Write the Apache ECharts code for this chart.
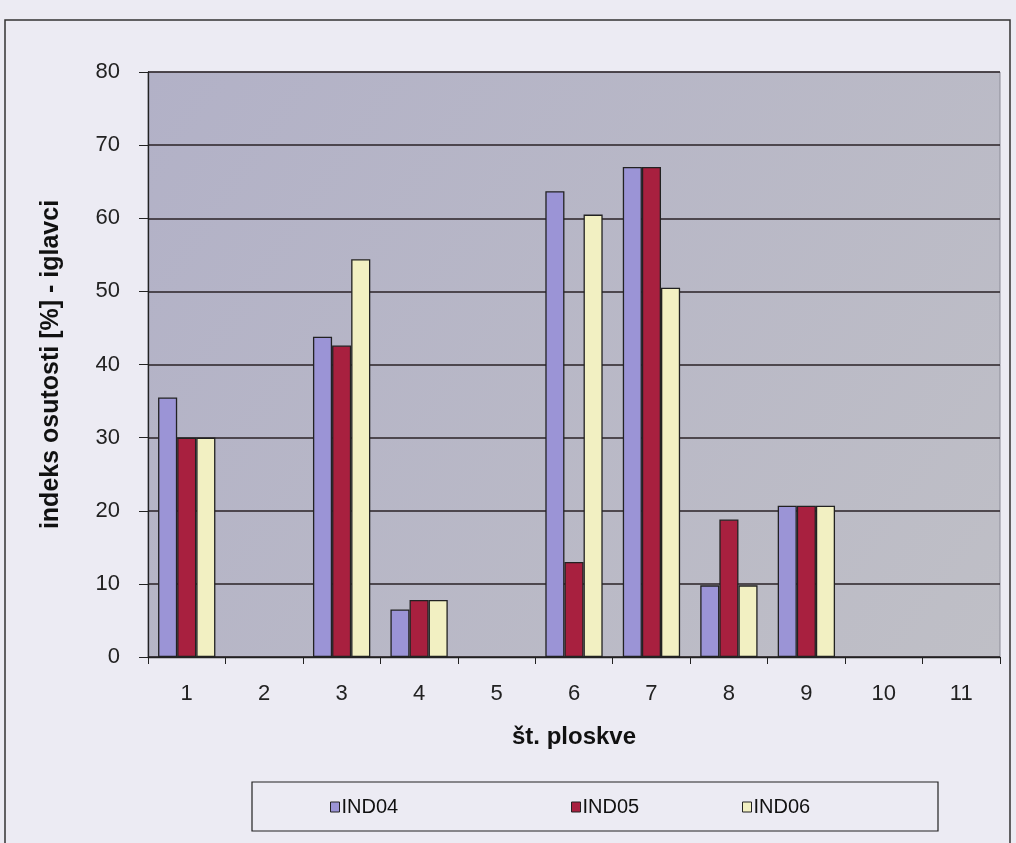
<!DOCTYPE html>
<html><head><meta charset="utf-8">
<script src="https://cdn.jsdelivr.net/npm/echarts@6/dist/echarts.min.js"></script>
<style>html,body{margin:0;padding:0;background:#ecebf3;}#c{width:1016px;height:843px;}</style>
</head><body><div id="c"></div>
<script>
const categories = ['1','2','3','4','5','6','7','8','9','10','11'];
const ind04 = [35.5, null, 43.8, 6.5, null, 63.7, 67, 9.8, 20.7, null, null];
const ind05 = [30, null, 42.6, 7.8, null, 13, 67, 18.8, 20.7, null, null];
const ind06 = [30, null, 54.4, 7.8, null, 60.5, 50.5, 9.8, 20.7, null, null];
const seriesNames = ['IND04', 'IND05', 'IND06'];
const colors = ['#9b94d6', '#a8203f', '#f2f0c2'];
const font = "'Liberation Sans',Arial,sans-serif";

const chart = echarts.init(document.getElementById('c'));
const mk = (name, data, color) => ({
  name, type: 'bar', data, barGap: '0%', barCategoryGap: '26%',
  itemStyle: { color, borderColor: '#222', borderWidth: 1.3 }
});
const legendPos = [330, 571, 742];
const mkLegend = (i) => ({
  data: [seriesNames[i]], left: legendPos[i], top: 797, itemWidth: 9, itemHeight: 10,
  icon: 'rect', itemGap: 0, padding: 0,
  textStyle: { fontFamily: font, fontSize: 20, color: '#111', padding: [0, 0, 0, -3] },
  itemStyle: { borderColor: '#222', borderWidth: 1 }
});
chart.setOption({
  animation: false,
  backgroundColor: '#ecebf3',
  graphic: [
    { type: 'rect', shape: { x: 5, y: 20, width: 1005, height: 840 }, style: { fill: 'none', stroke: '#333', lineWidth: 1.5 }, z: -1 },
    { type: 'rect', shape: { x: 252, y: 782, width: 686, height: 49 }, style: { fill: 'none', stroke: '#222', lineWidth: 1.2 } }
  ],
  grid: {
    left: 148, top: 72, right: 16, bottom: 186, show: true,
    backgroundColor: new echarts.graphic.LinearGradient(0, 0, 1, 1, [
      { offset: 0, color: '#b2b1c7' }, { offset: 1, color: '#bfbfc6' }
    ]),
    borderColor: '#8a8a96', borderWidth: 1
  },
  legend: [mkLegend(0), mkLegend(1), mkLegend(2)],
  xAxis: {
    type: 'category', data: categories,
    name: 'št. ploskve', nameLocation: 'middle', nameGap: 68,
    nameTextStyle: { fontFamily: font, fontWeight: 'bold', fontSize: 24, color: '#111' },
    axisLine: { lineStyle: { color: '#222', width: 1.3 } },
    axisTick: { show: true, length: 7, lineStyle: { color: '#222' } },
    axisLabel: { fontFamily: font, fontSize: 22, color: '#222', margin: 26 }
  },
  yAxis: {
    type: 'value', min: 0, max: 80, interval: 10,
    name: 'indeks osutosti [%] - iglavci', nameLocation: 'middle', nameGap: 84,
    nameTextStyle: { fontFamily: font, fontWeight: 'bold', fontSize: 25, color: '#111' },
    axisLine: { show: true, lineStyle: { color: '#222', width: 1.3 } },
    axisTick: { show: true, length: 9, lineStyle: { color: '#222' } },
    axisLabel: { fontFamily: font, fontSize: 22, color: '#222', margin: 28 },
    splitLine: { lineStyle: { color: '#2a2226', width: 1.5 } }
  },
  series: [mk(seriesNames[0], ind04, colors[0]), mk(seriesNames[1], ind05, colors[1]), mk(seriesNames[2], ind06, colors[2])]
});
</script></body></html>
